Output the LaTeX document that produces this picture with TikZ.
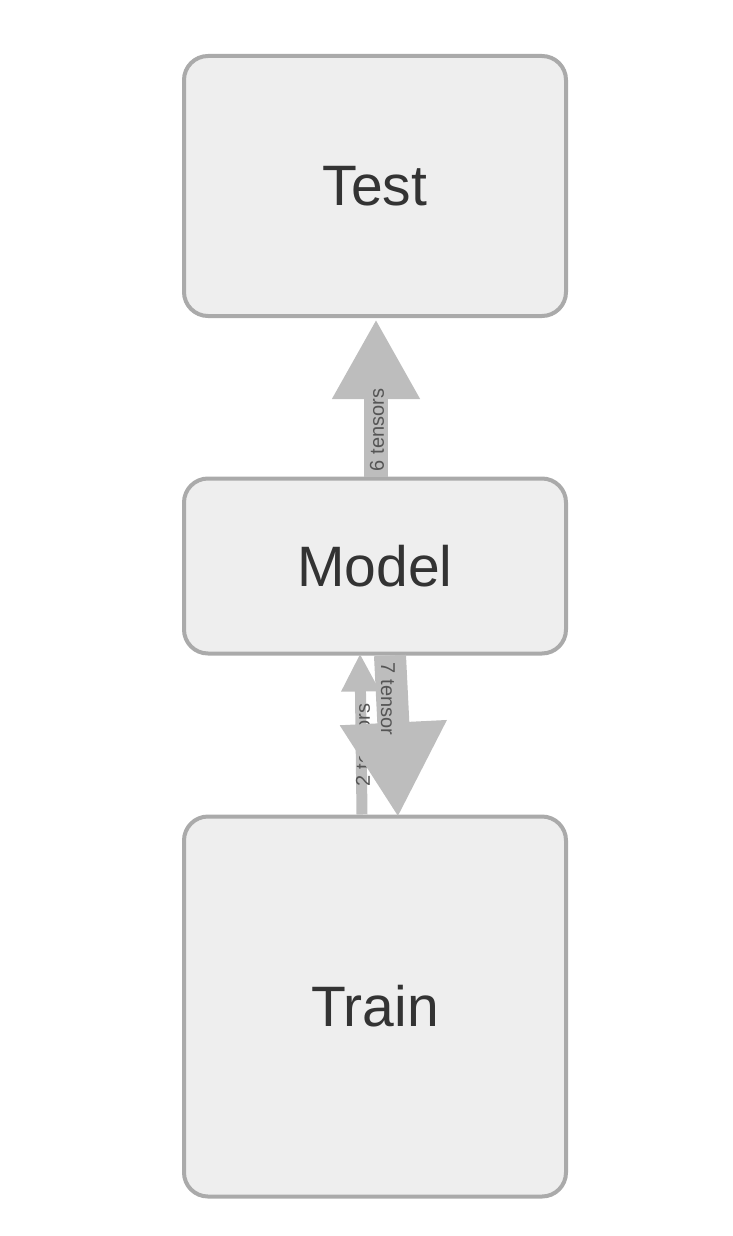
\documentclass[tikz,border=0pt]{standalone}
\usepackage{fontspec}
\setmainfont{Liberation Sans}
\usetikzlibrary{arrows.meta}
\definecolor{boxfill}{HTML}{EEEEEE}
\definecolor{boxline}{HTML}{AAAAAA}
\definecolor{arrowc}{HTML}{BDBDBD}
\definecolor{txt}{HTML}{333333}
\definecolor{lbl}{HTML}{555555}
\begin{document}
\begin{tikzpicture}[x=1pt,y=-1pt,
  box/.style={draw=boxline,fill=boxfill,line width=4pt,rounded corners=24pt,
    minimum width=382pt,text=txt,font=\fontsize{57}{60}\selectfont,inner sep=0pt},
  edgelbl/.style={text=lbl,font=\fontsize{20}{22}\selectfont,inner sep=0pt}]
\useasboundingbox (0,0) rectangle (732,1236);
\node[box,minimum height=260pt] (test) at (375,186) {Test};
\node[box,minimum height=175pt] (model) at (375,566) {Model};
\node[box,minimum height=380pt] (train) at (375,1006.5) {Train};
% Model -> Test
\draw[arrowc,line width=24pt,-{Triangle[width=82pt,length=80pt]}]
  (model.north -| 376,0) -- ([yshift=-1pt]test.south -| 376,0);
\node[edgelbl,rotate=90] (l6) at (377,430) {6 tensors};
% Train -> Model (thin)
\draw[arrowc,line width=11pt,-{Triangle[width=36pt,length=38pt]}]
  (train.north -| 362,0) -- ([yshift=2pt]model.south -| 360,0);
\node[edgelbl,rotate=90] (l2) at (363,745) {2 tensors};
% Model -> Train (thick)
\draw[arrowc,line width=32pt,-{Triangle[width=100pt,length=95pt]}]
  (model.south -| 390,0) -- ([yshift=-3pt]train.north -| 398,0);
\node[edgelbl,rotate=-90] (l7) at (388,699) {7 tensor};
\end{tikzpicture}
\end{document}
